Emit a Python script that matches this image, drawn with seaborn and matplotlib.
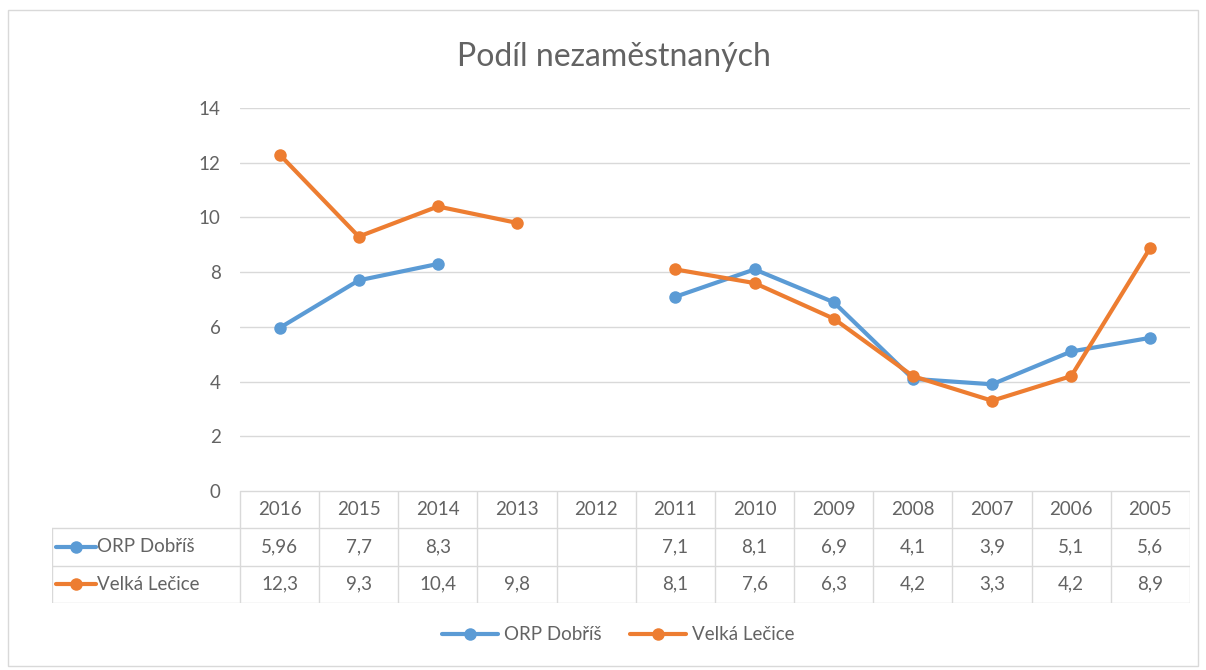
"""
Podil nezamestnanych -- Excel style line chart with data table.
"""

import numpy as np
import pandas as pd
import matplotlib
matplotlib.use("Agg")
import matplotlib.pyplot as plt
import seaborn as sns
from matplotlib.lines import Line2D
from matplotlib.patches import Rectangle

# -------------------------------------------------------- data
TITLE = "Podíl nezaměstnaných"
YEARS = ["2016", "2015", "2014", "2013", "2012", "2011",
         "2010", "2009", "2008", "2007", "2006", "2005"]
ORP_DOBRIS   = [5.96, 7.7, 8.3, np.nan, np.nan, 7.1, 8.1, 6.9, 4.1, 3.9, 5.1, 5.6]
VELKA_LECICE = [12.3, 9.3, 10.4, 9.8, np.nan, 8.1, 7.6, 6.3, 4.2, 3.3, 4.2, 8.9]
SERIES = ["ORP Dobříš", "Velká Lečice"]
Y_TICKS = [0, 2, 4, 6, 8, 10, 12, 14]

COLORS = ["#5B9BD5", "#ED7D31"]
TXT = "#636363"
GRID = "#D9D9D9"
FONT = ["Lato", "DejaVu Sans"]
FS = 13.5

W, H = 1206, 670


def px_box(x0, y0, x1, y1):
    """pixel box (top-left origin) -> figure fraction rect"""
    return [x0 / W, 1 - y1 / H, (x1 - x0) / W, (y1 - y0) / H]


def long_frame():
    """one row per point; a new segment starts after every gap"""
    rows = []
    for name, vals in zip(SERIES, [ORP_DOBRIS, VELKA_LECICE]):
        seg = 0
        for i, v in enumerate(vals):
            if np.isnan(v):
                seg += 1
                continue
            rows.append({"series": name, "pos": i, "value": v,
                         "segment": f"{name}_{seg}"})
    return pd.DataFrame(rows)


def fmt(v):
    return "" if np.isnan(v) else f"{v:g}".replace(".", ",")


# ============================================================ main
sns.set_style("white")
plt.rcParams["font.family"] = FONT

fig = plt.figure(figsize=(W / 100, H / 100), dpi=100)
fig.patches.append(Rectangle((8 / W, 1 - 666 / H), 1190 / W, 656 / H,
                             transform=fig.transFigure, fill=False,
                             ec=GRID, lw=1))

# --- line chart ---
ax = fig.add_axes(px_box(240, 108, 1190, 491))
df = long_frame()
sns.lineplot(data=df, x="pos", y="value", hue="series", hue_order=SERIES,
             units="segment", estimator=None, sort=False, palette=COLORS,
             marker="o", markersize=9, markeredgewidth=0, linewidth=3,
             legend=False, ax=ax)
ax.set_xlim(-0.5, len(YEARS) - 0.5)
ax.set_ylim(0, 14)
ax.set_yticks(Y_TICKS)
ax.set_xticks([])
ax.set_xlabel(""); ax.set_ylabel("")
ax.grid(axis="y", color=GRID, lw=1)
ax.tick_params(axis="y", length=0, pad=14, labelsize=FS, labelcolor=TXT)
for s in ax.spines.values():
    s.set_visible(False)

# --- data table ---
tab = fig.add_axes(px_box(52, 491, 1190, 603))
col_w = (1190 - 240) / len(YEARS)
xmin = -0.5 - (240 - 52) / col_w
xmax = len(YEARS) - 0.5
tab.set_xlim(xmin, xmax)
tab.set_ylim(3, 0)
tab.axis("off")

tab.plot([-0.5, xmax], [0, 0], color=GRID, lw=1)
for r in (1, 2, 3):
    tab.plot([xmin, xmax], [r, r], color=GRID, lw=1)
for k in range(len(YEARS) + 1):
    tab.plot([k - 0.5, k - 0.5], [0, 3], color=GRID, lw=1)
tab.plot([xmin, xmin], [1, 3], color=GRID, lw=1)

for i, y in enumerate(YEARS):
    tab.text(i, 0.5, y, ha="center", va="center", fontsize=FS, color=TXT)
for r, (name, vals, c) in enumerate(zip(SERIES, [ORP_DOBRIS, VELKA_LECICE],
                                        COLORS), start=1):
    for i, v in enumerate(vals):
        tab.text(i, r + 0.5, fmt(v), ha="center", va="center",
                 fontsize=FS, color=TXT)
    tab.plot([xmin + 0.05, xmin + 0.55], [r + 0.5, r + 0.5], color=c, lw=3)
    tab.plot([xmin + 0.3], [r + 0.5], "o", color=c, ms=9, mew=0)
    tab.text(xmin + 0.57, r + 0.5, name, ha="left", va="center",
             fontsize=FS, color=TXT)

# --- title + legend ---
fig.text(614 / W, 1 - 57 / H, TITLE, ha="center", va="center",
         fontsize=23, color=TXT)
handles = [Line2D([], [], color=c, lw=3, marker="o", ms=9, mew=0)
           for c in COLORS]
fig.legend(handles, SERIES, loc="center", bbox_to_anchor=(618 / W, 1 - 635 / H),
           ncol=2, frameon=False, fontsize=FS, labelcolor=TXT,
           handlelength=3.0, columnspacing=1.5, handletextpad=0.3)

fig.savefig("out.png", dpi=100)
plt.close(fig)
